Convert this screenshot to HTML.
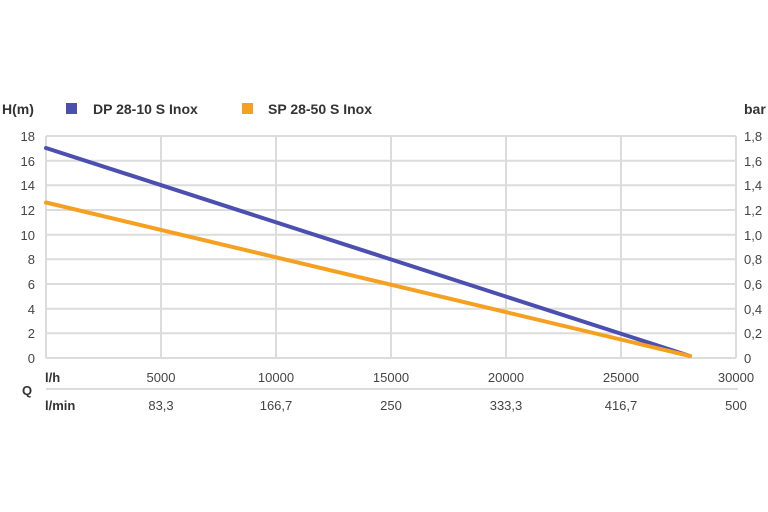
<!DOCTYPE html>
<html><head><meta charset="utf-8"><style>
body{margin:0;background:#fff;}
svg{display:block;font-family:"Liberation Sans",Arial,sans-serif;}
</style></head><body>
<svg width="768" height="512" viewBox="0 0 768 512">
<g stroke="#dcdcdc" stroke-width="2" fill="none">
<line x1="46" y1="136" x2="736" y2="136"/>
<line x1="46" y1="160.7" x2="736" y2="160.7"/>
<line x1="46" y1="185.3" x2="736" y2="185.3"/>
<line x1="46" y1="210" x2="736" y2="210"/>
<line x1="46" y1="234.7" x2="736" y2="234.7"/>
<line x1="46" y1="259.3" x2="736" y2="259.3"/>
<line x1="46" y1="284" x2="736" y2="284"/>
<line x1="46" y1="308.7" x2="736" y2="308.7"/>
<line x1="46" y1="333.3" x2="736" y2="333.3"/>
<line x1="46" y1="358" x2="736" y2="358"/>
<line x1="46" y1="136" x2="46" y2="358"/>
<line x1="161" y1="136" x2="161" y2="358"/>
<line x1="276" y1="136" x2="276" y2="358"/>
<line x1="391" y1="136" x2="391" y2="358"/>
<line x1="506" y1="136" x2="506" y2="358"/>
<line x1="621" y1="136" x2="621" y2="358"/>
<line x1="736" y1="136" x2="736" y2="358"/>
<line x1="46" y1="389" x2="738" y2="389"/>
</g>
<line x1="46" y1="148" x2="690" y2="356" stroke="#4a4fb0" stroke-width="4" stroke-linecap="round"/>
<line x1="46" y1="202.5" x2="690" y2="356" stroke="#f5a020" stroke-width="4" stroke-linecap="round"/>
<g font-size="14" fill="#333">
<text x="2" y="114" font-weight="bold">H(m)</text>
<rect x="66" y="103" width="11" height="11" fill="#4a4fb0"/>
<text x="93" y="114" font-weight="bold">DP 28-10 S Inox</text>
<rect x="242" y="103" width="11" height="11" fill="#f5a020"/>
<text x="268" y="114" font-weight="bold">SP 28-50 S Inox</text>
<text x="744" y="114" font-weight="bold">bar</text>
</g>
<g font-size="13" fill="#444" text-anchor="end">
<text x="35" y="141">18</text><text x="35" y="166">16</text><text x="35" y="190">14</text>
<text x="35" y="215">12</text><text x="35" y="240">10</text><text x="35" y="264">8</text>
<text x="35" y="289">6</text><text x="35" y="314">4</text><text x="35" y="338">2</text>
<text x="35" y="363">0</text>
</g>
<g font-size="13" fill="#444">
<text x="744" y="141">1,8</text><text x="744" y="166">1,6</text><text x="744" y="190">1,4</text>
<text x="744" y="215">1,2</text><text x="744" y="240">1,0</text><text x="744" y="264">0,8</text>
<text x="744" y="289">0,6</text><text x="744" y="314">0,4</text><text x="744" y="338">0,2</text>
<text x="744" y="363">0</text>
</g>
<g font-size="13" fill="#444" text-anchor="middle">
<text x="161" y="382">5000</text><text x="276" y="382">10000</text><text x="391" y="382">15000</text>
<text x="506" y="382">20000</text><text x="621" y="382">25000</text><text x="736" y="382">30000</text>
<text x="161" y="410">83,3</text><text x="276" y="410">166,7</text><text x="391" y="410">250</text>
<text x="506" y="410">333,3</text><text x="621" y="410">416,7</text><text x="736" y="410">500</text>
</g>
<g font-size="13" fill="#333" font-weight="bold">
<text x="45" y="382">l/h</text>
<text x="22" y="395">Q</text>
<text x="45" y="410">l/min</text>
</g>
</svg>
</body></html>
